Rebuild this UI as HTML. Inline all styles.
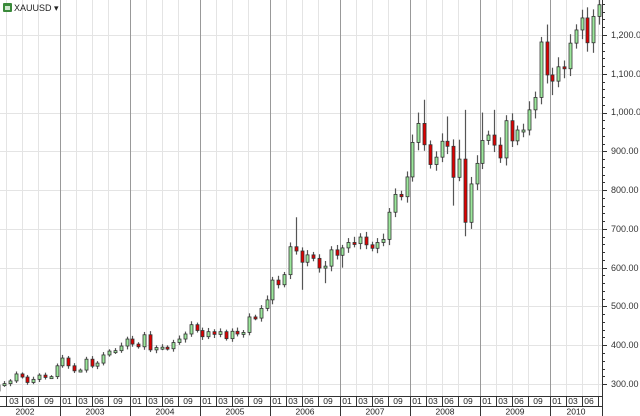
<!DOCTYPE html>
<html><head><meta charset="utf-8"><style>
body{margin:0;background:#fff;}
svg{display:block;font-family:"Liberation Sans",sans-serif;}
</style></head><body>
<svg id="c" width="640" height="416" xmlns="http://www.w3.org/2000/svg">
<rect width="640" height="416" fill="#fff"/>
<g id="grid"></g>
<g id="candles"></g>
<line x1="602.5" y1="0" x2="602.5" y2="416" stroke="#333"/>
<g id="ticks"></g>
<g font-size="9" fill="#333">
<text x="611" y="38">1,200.00</text>
<text x="611" y="77">1,100.00</text>
<text x="611" y="115">1,000.00</text>
<text x="611" y="154">900.00</text>
<text x="611" y="193">800.00</text>
<text x="611" y="232">700.00</text>
<text x="611" y="271">600.00</text>
<text x="611" y="309">500.00</text>
<text x="611" y="348">400.00</text>
<text x="611" y="387">300.00</text>
</g>
<rect x="0" y="396" width="602" height="20" fill="#fff"/>
<line x1="0" y1="396.5" x2="602" y2="396.5" stroke="#333"/>
<line x1="0" y1="406.5" x2="602" y2="406.5" stroke="#333"/>
<g id="mbox" stroke="#333"></g>
<g font-size="8.5" fill="#222" text-anchor="middle">
<text x="14" y="404">03</text><text x="30" y="404">06</text><text x="49" y="404">09</text>
<text x="67" y="404">01</text><text x="83" y="404">03</text><text x="99" y="404">06</text><text x="118" y="404">09</text>
<text x="137" y="404">01</text><text x="153" y="404">03</text><text x="169" y="404">06</text><text x="188" y="404">09</text>
<text x="207" y="404">01</text><text x="223" y="404">03</text><text x="239" y="404">06</text><text x="258" y="404">09</text>
<text x="277" y="404">01</text><text x="293" y="404">03</text><text x="309" y="404">06</text><text x="328" y="404">09</text>
<text x="347" y="404">01</text><text x="363" y="404">03</text><text x="379" y="404">06</text><text x="398" y="404">09</text>
<text x="417" y="404">01</text><text x="433" y="404">03</text><text x="449" y="404">06</text><text x="468" y="404">09</text>
<text x="487" y="404">01</text><text x="503" y="404">03</text><text x="519" y="404">06</text><text x="538" y="404">09</text>
<text x="557" y="404">01</text><text x="573" y="404">03</text><text x="589" y="404">06</text>
<text x="25" y="414.5">2002</text><text x="95" y="414.5">2003</text><text x="165" y="414.5">2004</text>
<text x="235" y="414.5">2005</text><text x="305" y="414.5">2006</text><text x="375" y="414.5">2007</text>
<text x="445" y="414.5">2008</text><text x="515" y="414.5">2009</text><text x="576" y="414.5">2010</text>
</g>
<rect x="3" y="3" width="9" height="9" rx="1" fill="#3a8a3a"/>
<rect x="5" y="6" width="5" height="4" fill="#cfe8cf"/>
<text x="14" y="11" font-size="9" fill="#222">XAUUSD ▾</text>
</svg>
<script>
var NS="http://www.w3.org/2000/svg";
function el(p,t,a){var e=document.createElementNS(NS,t);for(var k in a)e.setAttribute(k,a[k]);document.getElementById(p).appendChild(e);return e;}
function Y(p){return 35+(1200-p)*0.3878;}
for(var p=300;p<=1300;p+=100){var y=Math.round(Y(p))+0.5;el("grid","line",{x1:0,x2:602,y1:y,y2:y,stroke:"#e4e4e4"});}
for(var p=300;p<=1300;p+=20){var y=Math.round(Y(p))+0.5;el("ticks","line",{x1:602,x2:(p%100?605:607),y1:y,y2:y,stroke:"#333"});}
for(var yr=0;yr<9;yr++){var s=-10.5+yr*70;
 [16,32,48].forEach(function(o){var x=Math.round(s+o)+0.5;el("grid","line",{x1:x,x2:x,y1:0,y2:396,stroke:"#e4e4e4"});el("mbox","line",{x1:x,x2:x,y1:396,y2:406});});
 if(yr>0){var x=Math.round(s)+0.5;el("grid","line",{x1:x,x2:x,y1:0,y2:396,stroke:"#999"});el("mbox","line",{x1:x,x2:x,y1:396,y2:416});}
}
var closes=[282,297,301,308,326,318,304,312,323,317,319,347,
367,347,334,336,364,346,354,375,385,386,398,416,
403,396,427,388,394,395,391,407,416,429,453,438,
422,435,428,435,417,436,429,433,473,470,495,517,
568,556,582,654,643,614,633,624,599,604,646,632,
651,665,662,679,659,650,665,673,743,789,783,834,
923,972,917,866,885,926,913,833,880,717,816,869,
928,942,916,883,979,927,955,955,1007,1039,1182,1097,
1081,1118,1113,1179,1213,1244,1180,1248,1278];
var hiOv={52:730,74:1033,81:1007,94:1195,95:1227,106:1265,105:1260,86:1007,73:1000,78:990,80:930,83:890,84:1000};
var loOv={53:543,81:681,82:700,83:800,95:1075,96:1045,102:1157,79:760,76:850,57:560,60:600};
var prev=278;
for(var i=0;i<closes.length;i++){
 var o=prev,c=closes[i];prev=c;
 var cx=-10.5+i*(70/12)+2.9;
 var hi=Math.max(o,c)*(1+0.012+0.01*((i*7)%5)/4), lo=Math.min(o,c)*(1-0.012-0.01*((i*3)%5)/4);
 if(hiOv[i])hi=Math.max(hiOv[i],Math.max(o,c)); if(loOv[i])lo=Math.min(loOv[i],Math.min(o,c));
 var xw=Math.round(cx)+0.5;
 el("candles","line",{x1:xw,x2:xw,y1:Y(hi),y2:Y(lo),stroke:"#555","stroke-width":1.2});
 var t=Y(Math.max(o,c)),b=Y(Math.min(o,c));if(b-t<2){b=t+2;}
 el("candles","rect",{x:Math.round(cx)-1,y:t,width:3,height:b-t,fill:c>=o?"#9ce89c":"#e00000",stroke:"#333","stroke-width":0.8});
}
</script>
</body></html>
